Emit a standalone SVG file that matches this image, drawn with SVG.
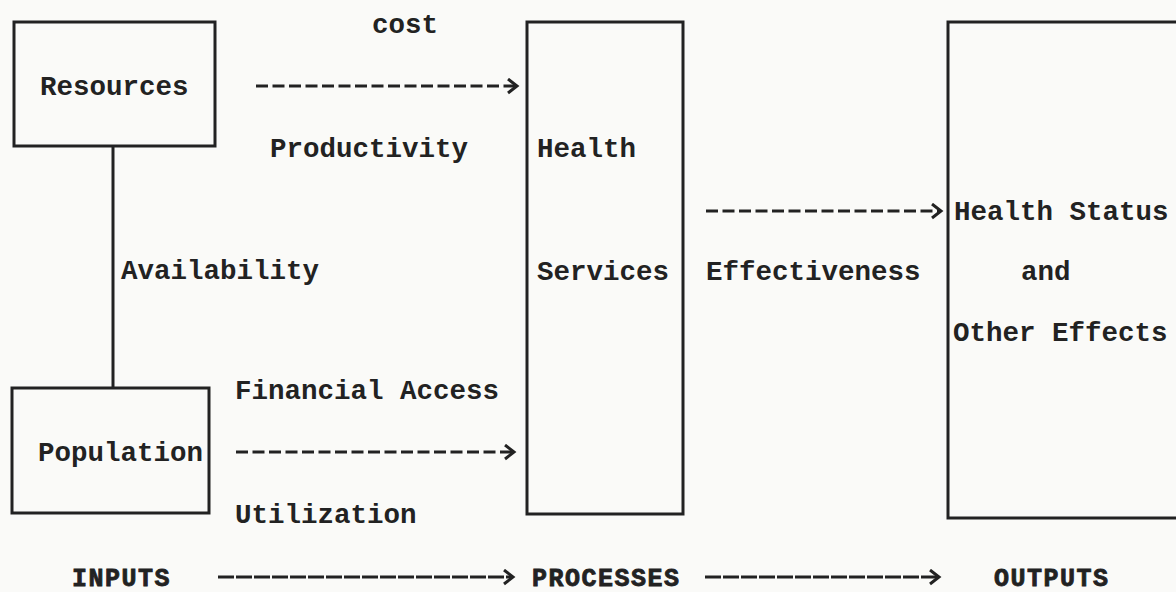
<svg xmlns="http://www.w3.org/2000/svg" width="1176" height="592" viewBox="0 0 1176 592">
<defs>
<style>
.bg{fill:#fafaf8}
.box{fill:none;stroke:#222;stroke-width:3}
.t{font-family:"Liberation Mono","DejaVu Sans Mono",monospace;font-weight:bold;font-size:27.5px;fill:#222}
.cap{font-family:"Liberation Mono","DejaVu Sans Mono",monospace;font-weight:bold;font-size:25px;letter-spacing:1.5px;fill:#222;stroke:#222;stroke-width:0.8}
.dash{fill:none;stroke:#222;stroke-width:3;stroke-dasharray:12 4.5}
.dash2{fill:none;stroke:#222;stroke-width:3;stroke-dasharray:16 2}
.solid{fill:none;stroke:#222;stroke-width:3}
</style>
<marker id="chev" markerUnits="userSpaceOnUse" markerWidth="16" markerHeight="18" refX="12" refY="8" orient="auto">
<path d="M3,1 L12,8 L3,15" fill="none" stroke="#222" stroke-width="3"/>
</marker>
</defs>
<rect class="bg" x="0" y="0" width="1176" height="592"/>
<g id="resources">
<rect class="box" x="14" y="22" width="201" height="124"/>
<text class="t" x="40" y="95">Resources</text>
</g>
<g id="population">
<rect class="box" x="12" y="388" width="197" height="125"/>
<text class="t" x="38" y="461">Population</text>
</g>
<g id="health-services">
<rect class="box" x="527" y="22" width="156" height="492"/>
<text class="t" x="537" y="157">Health</text>
<text class="t" x="537" y="280">Services</text>
</g>
<g id="outputs-box">
<rect class="box" x="948" y="22" width="240" height="496"/>
<text class="t" x="954" y="220">Health Status</text>
<text class="t" x="1021" y="280">and</text>
<text class="t" x="953" y="341">Other Effects</text>
</g>
<g id="connectors">
<line class="solid" x1="113" y1="146" x2="113" y2="388"/>
<line class="dash" x1="256" y1="86" x2="517" y2="86" marker-end="url(#chev)"/>
<line class="dash" x1="236" y1="452" x2="514" y2="452" marker-end="url(#chev)"/>
<line class="dash" x1="706" y1="211" x2="941" y2="211" marker-end="url(#chev)"/>
<line class="dash2" x1="218" y1="577" x2="513" y2="577" marker-end="url(#chev)"/>
<line class="dash2" x1="705" y1="577" x2="939" y2="577" marker-end="url(#chev)"/>
</g>
<g id="labels">
<text class="t" x="372" y="33">cost</text>
<text class="t" x="270" y="157">Productivity</text>
<text class="t" x="121" y="279">Availability</text>
<text class="t" x="706" y="280">Effectiveness</text>
<text class="t" x="235" y="399">Financial Access</text>
<text class="t" x="235" y="523">Utilization</text>
<text class="cap" x="72" y="586">INPUTS</text>
<text class="cap" x="532" y="586">PROCESSES</text>
<text class="cap" x="994" y="586">OUTPUTS</text>
</g>
</svg>
